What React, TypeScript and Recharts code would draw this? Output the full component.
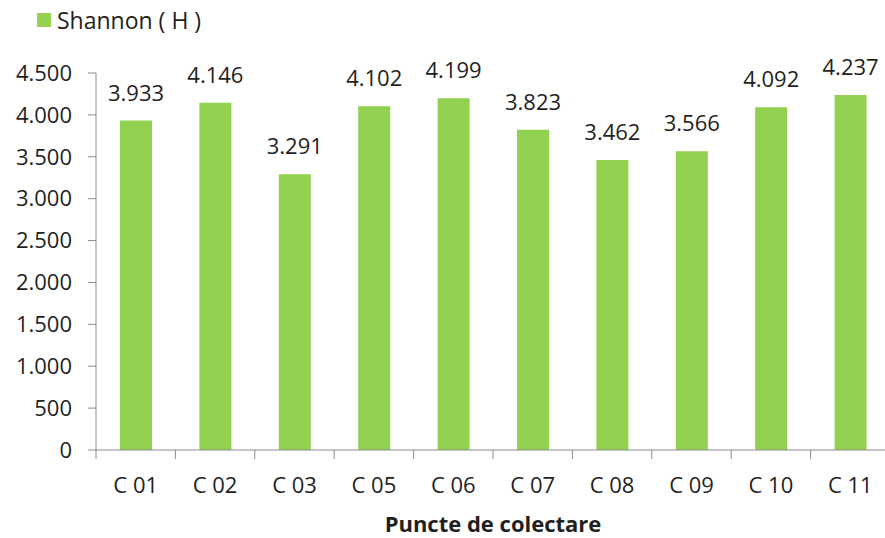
import React from "react";
import { Bar, BarChart, LabelList, XAxis, YAxis } from "recharts";

const categories = ["C 01", "C 02", "C 03", "C 05", "C 06", "C 07", "C 08", "C 09", "C 10", "C 11"];
const shannon = [3933, 4146, 3291, 4102, 4199, 3823, 3462, 3566, 4092, 4237];
const yTicks = [0, 500, 1000, 1500, 2000, 2500, 3000, 3500, 4000, 4500];

const seriesName = "Shannon ( H )";
const axisTitle = "Puncte de colectare";

const GREEN = "#92D050";
const AXIS = "#8C8C8C";
const TEXT = "#1F1F1F";
const FONT = "'Open Sans', sans-serif";

const data = categories.map((name, i) => ({ name, value: shannon[i] }));

// thousands separator with a dot, as in 4.500
const fmt = (v: number) => String(v).replace(/\B(?=(\d{3})+(?!\d))/g, ".");

const CHART_W = 890;
const CHART_H = 538;
const MARGIN = { top: 73, right: 0, bottom: 0, left: 10 };
const Y_WIDTH = 86;
const PLOT_W = CHART_W - MARGIN.left - MARGIN.right - Y_WIDTH;
const HALF_BAND = PLOT_W / categories.length / 2;

// category label plus the divider ticks between categories
function CategoryTick(props: any) {
  const { x, y, payload, index } = props;
  const last = index === categories.length - 1;
  return (
    <g>
      <line x1={x - HALF_BAND} x2={x - HALF_BAND} y1={y} y2={y + 9} stroke={AXIS} strokeWidth={1} />
      {last && <line x1={x + HALF_BAND} x2={x + HALF_BAND} y1={y} y2={y + 9} stroke={AXIS} strokeWidth={1} />}
      <text x={x} y={y + 43} textAnchor="middle" fill={TEXT} fontSize={22} fontFamily={FONT}>
        {payload.value}
      </text>
    </g>
  );
}

export default function App() {
  return (
    <div style={{ position: "fixed", left: 0, top: 0, width: 885, height: 538, overflow: "hidden", background: "#fff" }}>
      <div
        style={{
          position: "absolute",
          left: 37,
          top: 4,
          display: "flex",
          alignItems: "center",
          fontFamily: FONT,
          fontSize: 23,
          color: TEXT,
        }}
      >
        <span style={{ display: "inline-block", width: 14, height: 14, background: GREEN, marginRight: 6 }} />
        <span>{seriesName}</span>
      </div>
      <BarChart width={CHART_W} height={CHART_H} data={data} margin={MARGIN}>
        <YAxis
          domain={[0, 4500]}
          ticks={yTicks}
          tickFormatter={fmt}
          width={Y_WIDTH}
          interval={0}
          stroke={AXIS}
          tickSize={8}
          tickMargin={16}
          tick={{ fill: TEXT, fontSize: 22, fontFamily: FONT }}
        />
        <XAxis
          dataKey="name"
          height={88}
          interval={0}
          stroke={AXIS}
          tickLine={false}
          tickSize={0}
          tickMargin={0}
          tick={<CategoryTick />}
          label={{
            value: axisTitle,
            position: "insideBottom",
            offset: 6,
            fill: TEXT,
            fontSize: 22,
            fontWeight: 700,
            fontFamily: FONT,
          }}
        />
        <Bar dataKey="value" fill={GREEN} barSize={32} isAnimationActive={false}>
          <LabelList
            dataKey="value"
            position="top"
            offset={20}
            formatter={(v: any) => fmt(Number(v))}
            fill={TEXT}
            fontSize={22}
            fontFamily={FONT}
          />
        </Bar>
      </BarChart>
    </div>
  );
}
